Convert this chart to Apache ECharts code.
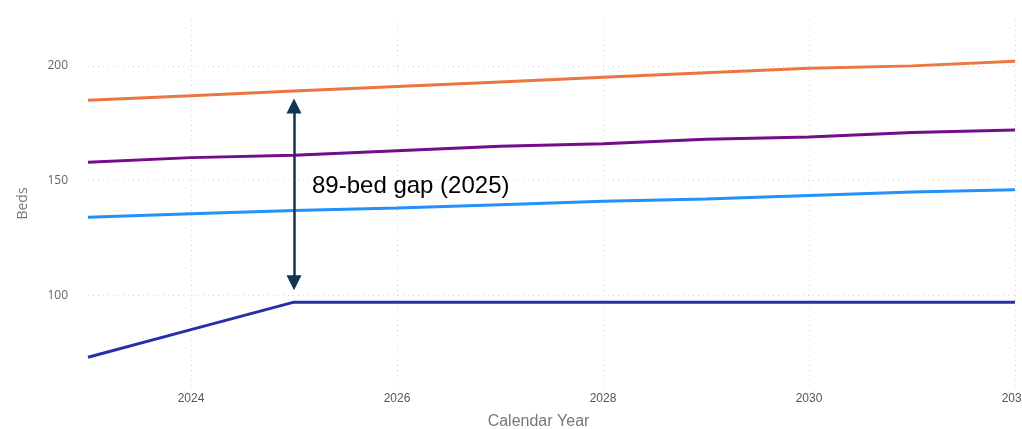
<!DOCTYPE html>
<html>
<head>
<meta charset="utf-8">
<script src="https://cdn.jsdelivr.net/npm/echarts@6/dist/echarts.min.js"></script>
<style>
  html, body { margin: 0; padding: 0; background: #fff; }
  #main { width: 1022px; height: 429px; }
</style>
</head>
<body>
<div id="main"></div>
<script>
// years on the x axis
const years = ['2023', '2024', '2025', '2026', '2027', '2028', '2029', '2030', '2031', '2032']

// bed projections
const orangeBeds = [185, 187, 189, 191, 193, 195, 197, 199, 200, 202]
const purpleBeds = [158, 160, 161, 163, 165, 166, 168, 169, 171, 172]
const blueBeds = [134, 135.5, 137, 138, 139.5, 141, 142, 143.5, 145, 146]
const navyBeds = [73, 85, 97, 97, 97, 97, 97, 97, 97, 97]

const yTicks = [100, 150, 200]

// gap annotation
const gapYear = '2025'
const gapTop = 182.5
const gapBottom = 105.5
const gapLabel = '89-bed gap (2025)'
const gapLabelAt = 147.5

const chartDom = document.getElementById('main')
const myChart = echarts.init(chartDom)

const lineSeries = (data, color) => ({
  type: 'line',
  data: data,
  symbol: 'none',
  lineStyle: { color: color, width: 3 },
  itemStyle: { color: color },
  silent: true
})

const option = {
  animation: false,
  grid: { left: 88, right: 7, top: 20, bottom: 42, outerBoundsMode: 'none', containLabel: false },
  xAxis: {
    type: 'category',
    data: years,
    boundaryGap: false,
    name: 'Calendar Year',
    nameLocation: 'middle',
    nameGap: 27,
    nameTextStyle: { color: '#777', fontSize: 16, fontFamily: 'Liberation Sans', padding: [0, 26, 0, 0] },
    axisLine: { show: false },
    axisTick: { show: false },
    axisLabel: {
      color: '#555',
      fontSize: 12,
      fontFamily: 'Liberation Sans',
      margin: 6,
      interval: (i, v) => Number(v) % 2 === 0
    },
    splitLine: {
      show: true,
      interval: (i, v) => Number(v) % 2 === 0,
      lineStyle: { color: '#d6d6d6', type: [1, 4], width: 1 }
    }
  },
  yAxis: {
    type: 'value',
    min: 60,
    max: 220,
    name: 'Beds',
    nameLocation: 'middle',
    nameGap: 58,
    nameTextStyle: { color: '#777', fontSize: 14, fontFamily: 'Open Sans' },
    axisLine: { show: false },
    axisTick: { show: false, customValues: yTicks },
    axisLabel: {
      color: '#666',
      fontSize: 12,
      fontFamily: 'Open Sans',
      margin: 20,
      customValues: yTicks
    },
    splitLine: {
      show: true,
      lineStyle: { color: '#d6d6d6', type: [1, 4], width: 1 }
    }
  },
  series: [
    lineSeries(orangeBeds, '#ec7640'),
    lineSeries(purpleBeds, '#740d8a'),
    lineSeries(blueBeds, '#2291fb'),
    Object.assign(lineSeries(navyBeds, '#2530a8'), {
      markLine: {
        silent: true,
        symbol: ['triangle', 'triangle'],
        symbolSize: [15, 15],
        label: { show: false },
        lineStyle: { color: '#0f3550', width: 2.5, type: 'solid' },
        data: [[
          { coord: [gapYear, gapTop] },
          { coord: [gapYear, gapBottom] }
        ]]
      },
      markPoint: {
        silent: true,
        symbol: 'circle',
        symbolSize: 0,
        data: [{ coord: [gapYear, gapLabelAt], value: gapLabel }],
        label: {
          show: true,
          position: 'right',
          distance: 18,
          formatter: gapLabel,
          color: '#000',
          fontSize: 24,
          fontFamily: 'Liberation Sans'
        }
      }
    })
  ]
}

option && myChart.setOption(option)
</script>
</body>
</html>
